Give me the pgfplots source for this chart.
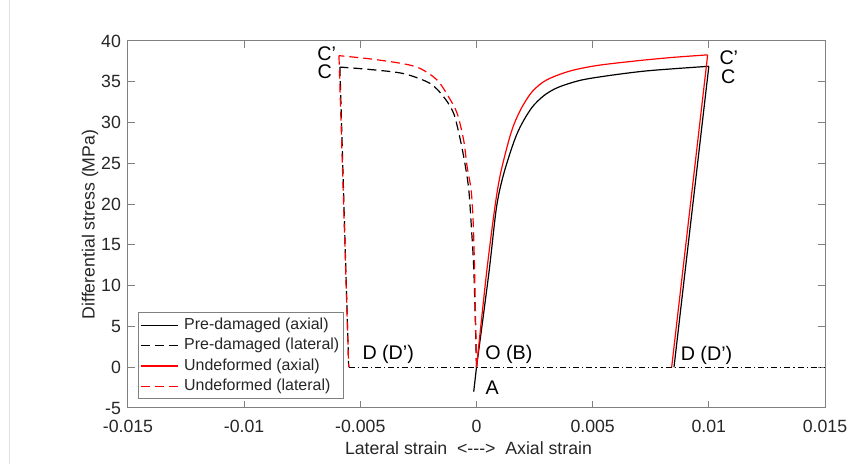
\documentclass[border=0pt]{standalone}
\usepackage{fontspec}
\setmainfont{Liberation Sans}
\usepackage{pgfplots}
\pgfplotsset{compat=1.18}
\definecolor{mtext}{rgb}{0.15,0.15,0.15}
\definecolor{maxis}{rgb}{0.50,0.50,0.50}

\begin{document}
\begin{tikzpicture}
  \begin{axis}[
    name=ax,
    scale only axis,
    width=348.5pt, height=183.5pt,
    xmin=-0.015, xmax=0.015,
    ymin=-5, ymax=40,
    scaled x ticks=false,
    xtick={-0.015,-0.01,-0.005,0,0.005,0.01,0.015},
    xticklabels={-0.015,-0.01,-0.005,0,0.005,0.01,0.015},
    ytick={-5,0,5,10,15,20,25,30,35,40},
    yticklabels={-5,0,5,10,15,20,25,30,35,40},
    tick label style={font=\fontsize{8.85}{10}\selectfont, text=mtext},
    xticklabel style={yshift=-2.5pt},
    axis line style={maxis, line width=0.5pt},
    tick style={maxis, line width=0.5pt},
    major tick length=3.5pt,
    xlabel={Lateral strain \ <-{}-{}-> \ Axial strain},
    ylabel={Differential stress (MPa)},
    label style={font=\fontsize{8.85}{10}\selectfont, text=mtext},
    xlabel style={at={(axis description cs:0.4885,-0.109)}, anchor=center},
    ylabel style={at={(axis description cs:-0.0545,0.5)}, anchor=center},
    legend cell align=left,
    legend image code/.code={
      \draw[#1] plot coordinates {(0cm,0cm) (0.32cm,0cm) (0.64cm,0cm)};},
    legend style={at={(0.0139,0.0245)}, anchor=south west,
      draw=maxis, line width=0.5pt, inner sep=1pt, column sep=2pt,
      font=\fontsize{7.97}{9}\selectfont, text=mtext,
      nodes={inner sep=1.2pt, text height=6pt, text depth=1.8pt}},
    every axis plot/.append style={line width=0.6pt},
    clip mode=individual
  ]
    % zero line, dash-dot
    \addplot[black, line width=0.5pt, dash pattern=on 3pt off 1.5pt on 0.6pt off 1.5pt, forget plot]
      coordinates {(-0.0055,0) (0.015,0)};

    % pre-damaged, axial
    \addplot[black, smooth, tension=0.5]
      coordinates {(0,0) (0.00053,11.5) (0.00086,19.6) (0.00117,23.7) (0.00163,27.8)
        (0.00196,29.9) (0.0024,31.9) (0.0029,33.3) (0.0035,34.3) (0.0045,35.2)
        (0.0058,35.8) (0.0072,36.3) (0.0085,36.6) (0.0100,36.9)};
    \addlegendentry{Pre-damaged (axial)}
    \addplot[black, forget plot] coordinates {(0.0100,36.9) (0.0085,0)};
    \addplot[black, forget plot] coordinates {(-0.00012,-3) (0,0)};

    % pre-damaged, lateral
    \addplot[black, dash pattern=on 4.5pt off 2.5pt, smooth, tension=0.5]
      coordinates {(0,0) (-0.00011,11.5) (-0.00023,17.6) (-0.00033,21.7) (-0.00047,24.5)
        (-0.00069,27.8) (-0.00098,31.1) (-0.0014,33.1) (-0.0020,34.8) (-0.00314,36.0)
        (-0.00456,36.5) (-0.00588,36.8)};
    \addlegendentry{Pre-damaged (lateral)}
    \addplot[black, dash pattern=on 4.5pt off 2.5pt, forget plot]
      coordinates {(-0.00588,36.8) (-0.0055,0)};

    % undeformed, axial
    \addplot[red, smooth, tension=0.5]
      coordinates {(0,0) (0.00043,11.5) (0.00079,19.6) (0.00103,23.7) (0.00139,27.8)
        (0.00163,29.9) (0.00196,31.9) (0.0024,33.8) (0.0030,35.2) (0.0040,36.3)
        (0.0052,37.0) (0.0070,37.6) (0.0085,38.0) (0.00995,38.3)};
    \addlegendentry{Undeformed (axial)}
    \addplot[red, forget plot] coordinates {(0.00995,38.3) (0.0084,0)};

    % undeformed, lateral
    \addplot[red, dash pattern=on 4.5pt off 2.5pt, smooth, tension=0.5]
      coordinates {(0,0) (-0.00008,11.5) (-0.00014,17.6) (-0.00023,21.7) (-0.0004,24.5)
        (-0.00055,27.8) (-0.00083,31.1) (-0.00119,33.1) (-0.00169,35.2) (-0.0024,36.6)
        (-0.00313,37.2) (-0.00456,37.8) (-0.00592,38.2)};
    \addlegendentry{Undeformed (lateral)}
    \addplot[red, dash pattern=on 4.5pt off 2.5pt, forget plot]
      coordinates {(-0.00592,38.2) (-0.0055,0)};

    % point labels
    \begin{scope}[every node/.style={font=\fontsize{9.85}{11}\selectfont, text=black}]
      \node at (axis cs:-0.00645,38.5) {C'};
      \node at (axis cs:-0.00653,36.2) {C};
      \node at (axis cs:0.01086,38.0) {C'};
      \node at (axis cs:0.01083,35.6) {C};
      \node at (axis cs:-0.0038,1.55) {D (D')};
      \node at (axis cs:0.0099,1.5) {D (D')};
      \node at (axis cs:0.00139,1.55) {O (B)};
      \node at (axis cs:0.00067,-2.5) {A};
    \end{scope}
  \end{axis}
  \pgfresetboundingbox
  \path[use as bounding box] ([xshift=-64pt,yshift=-28pt]ax.south west)
    rectangle ([xshift=12.5pt,yshift=20.5pt]ax.north east);
  \draw[black!12, line width=0.5pt] ([xshift=-59pt,yshift=-28pt]ax.south west)
    -- ([xshift=-59pt,yshift=20.5pt]ax.north west);
\end{tikzpicture}
\end{document}
